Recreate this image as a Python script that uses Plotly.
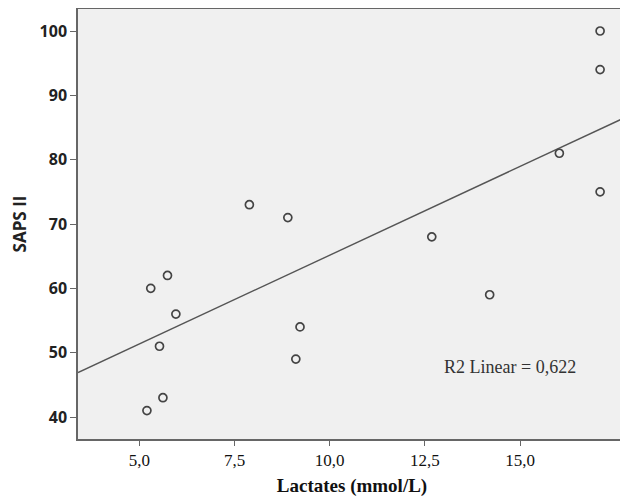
import plotly.graph_objects as go

# Data
lactates = [5.20, 5.62, 5.30, 5.74, 5.96, 5.53, 7.89, 8.90, 9.22, 9.11,
            12.68, 14.20, 16.03, 17.10, 17.10, 17.10]
saps_ii = [41, 43, 60, 62, 56, 51, 73, 71, 54, 49,
           68, 59, 81, 100, 94, 75]
x_ticks = [5.0, 7.5, 10.0, 12.5, 15.0]
x_tick_labels = ["5,0", "7,5", "10,0", "12,5", "15,0"]
y_ticks = [40, 50, 60, 70, 80, 90, 100]
r2_label = "R2 Linear = 0,622"
# Linear fit line as drawn in the reference (intercept, slope)
fit_intercept = 37.55
fit_slope = 2.76

x_range = [3.39, 17.78]
y_range = [36.58, 103.42]

fit_x = list(x_range)
fit_y = [fit_intercept + fit_slope * v for v in fit_x]

fig = go.Figure()
fig.add_trace(go.Scatter(
    x=fit_x, y=fit_y, mode="lines",
    line=dict(color="#555555", width=1.4),
    hoverinfo="skip", showlegend=False,
))
fig.add_trace(go.Scatter(
    x=lactates, y=saps_ii, mode="markers",
    marker=dict(symbol="circle-open", size=8, color="#444444",
                line=dict(width=1.7, color="#444444")),
    showlegend=False,
))

fig.add_annotation(
    x=0.788, y=0.167, xref="paper", yref="paper",
    text=r2_label, showarrow=False,
    font=dict(family="Liberation Serif", size=18, color="#333333"),
    xanchor="center", yanchor="middle",
)

# The page body adds an 8px offset, so the figure is sized to the remaining area
fig.update_layout(
    width=620, height=490,
    margin=dict(l=70, r=2, t=1, b=59),
    paper_bgcolor="white",
    plot_bgcolor="#f0f0f0",
    xaxis=dict(
        range=x_range, tickmode="array", tickvals=x_ticks, ticktext=x_tick_labels,
        showgrid=False, zeroline=False, automargin=False,
        showline=True, linecolor="#666666", linewidth=1.5, mirror=True,
        ticks="outside", ticklen=5, tickwidth=1.3, tickcolor="#666666",
        tickfont=dict(family="Liberation Serif", size=17, color="#111111"),
        title=dict(text="<b>Lactates (mmol/L)</b>", standoff=10,
                   font=dict(family="Liberation Serif", size=19, color="#111111")),
    ),
    yaxis=dict(
        range=y_range, tickmode="array", tickvals=y_ticks,
        showgrid=False, zeroline=False, automargin=False,
        showline=True, linecolor="#666666", linewidth=1.5, mirror=True,
        ticks="outside", ticklen=6, tickwidth=1.3, tickcolor="#666666",
        tickfont=dict(family="Open Sans", size=16, color="#222222", weight="bold"),
        title=dict(text="<b>SAPS II</b>", standoff=11,
                   font=dict(family="Open Sans", size=17, color="#222222")),
    ),
)

fig.write_html("out.html")
